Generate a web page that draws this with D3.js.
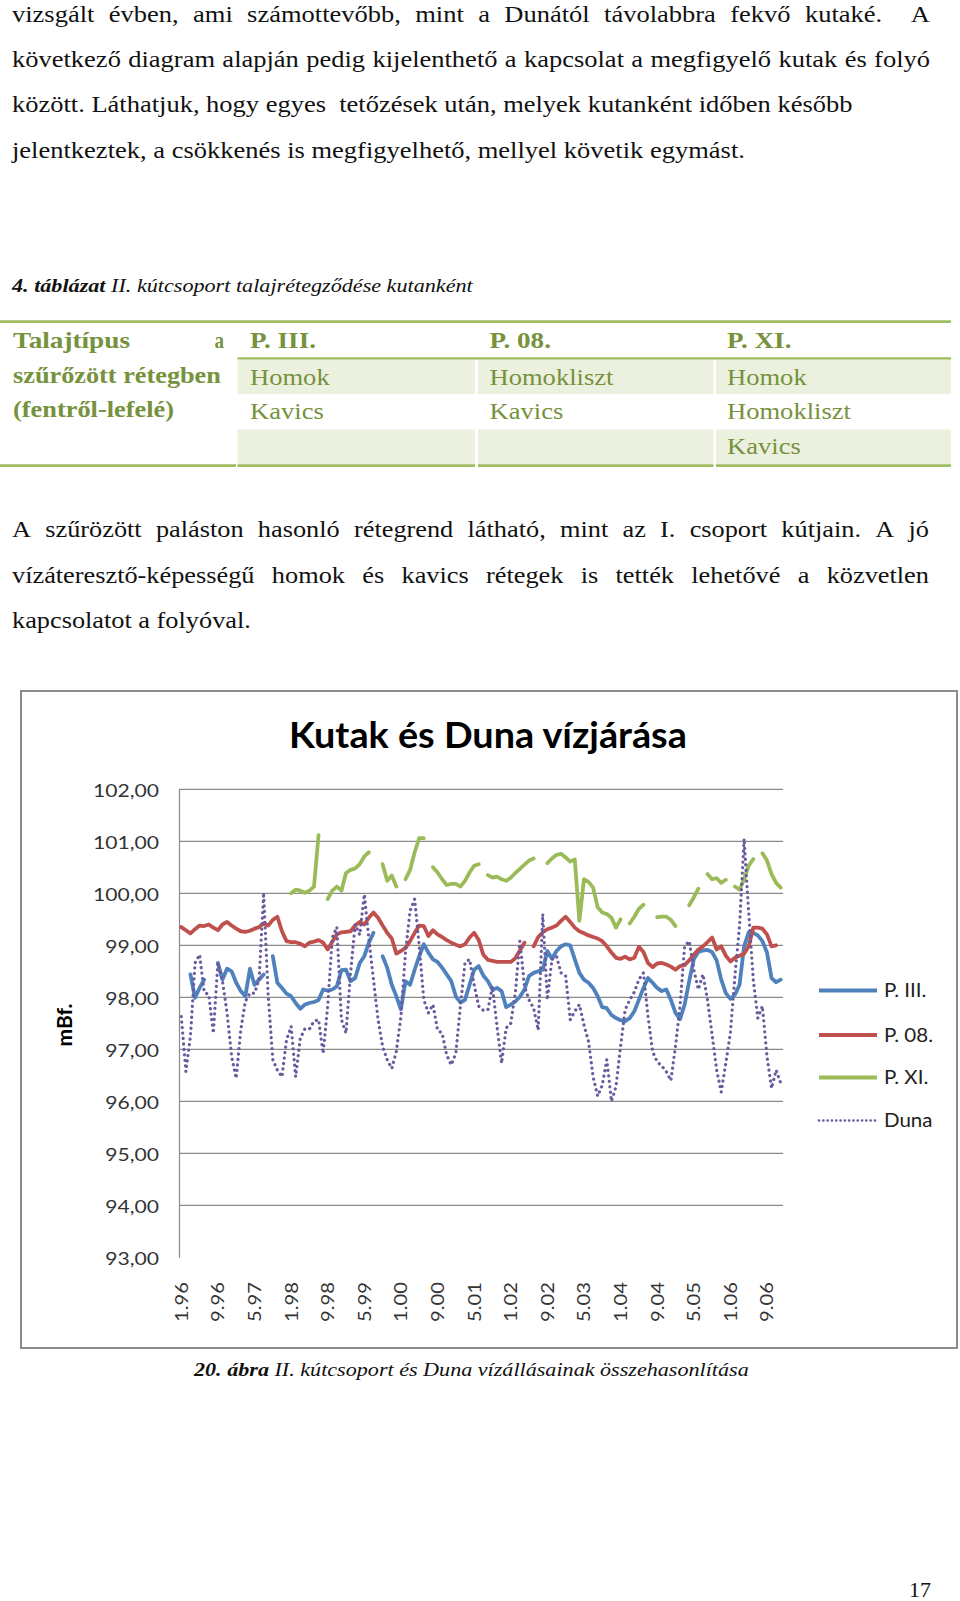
<!DOCTYPE html>
<html><head><meta charset="utf-8">
<script src="https://cdn.jsdelivr.net/npm/d3@7"></script>
<style>html,body{margin:0;padding:0;background:#fff;} svg{display:block;}</style>
</head><body>
<svg id="page" width="960" height="1601"></svg>
<script>
// ---------------- DATA ----------------
const years = ["96","97","98","99","00","01","02","03","04","05","06"];
const months = [];
years.forEach(yy => { for (let m = 1; m <= 12; m++) months.push(m + "." + yy); });
const tickLabels = ["1.96","9.96","5.97","1.98","9.98","5.99","1.00","9.00","5.01","1.02","9.02","5.03","1.04","9.04","5.05","1.06","9.06"];
const yTicks = [93,94,95,96,97,98,99,100,101,102];
const seriesNames = ["P. III.","P. 08.","P. XI.","Duna"];

const P3 = [null,null,98.44,97.99,98.18,98.34,null,null,98.66,98.34,
98.55,98.50,98.28,98.12,98.02,98.55,98.24,98.34,98.44,null,
98.79,98.28,98.18,98.07,98.02,97.89,97.78,97.86,97.89,97.91,
97.95,98.15,98.13,98.15,98.21,98.52,98.53,98.31,98.37,98.66,
98.79,99.05,99.24,null,98.79,98.57,98.24,98.02,97.77,98.31,
98.24,98.53,98.79,99.02,98.86,98.73,98.68,98.57,98.44,98.31,
98.02,97.90,97.95,98.24,98.53,98.60,98.42,98.31,98.15,98.18,
98.12,97.81,97.86,97.92,98.01,98.15,98.41,98.47,98.50,98.53,
98.89,98.74,98.89,98.98,99.02,99.00,98.73,98.47,98.34,98.28,
98.18,98.02,97.81,97.79,97.66,97.60,97.56,97.54,97.60,97.73,
97.95,98.18,98.37,98.28,98.18,98.12,98.15,97.95,97.70,97.58,
97.86,98.31,98.73,98.87,98.90,98.91,98.87,98.71,98.34,98.08,
97.97,98.05,98.24,98.98,99.25,99.24,99.19,99.08,98.86,98.37,
98.29,98.34];

const P08 = [99.35,99.29,99.23,99.31,99.38,99.37,99.40,99.34,99.29,99.40,
99.45,99.38,99.32,99.27,99.26,99.28,99.32,99.35,99.42,99.38,
99.49,99.55,99.27,99.08,99.06,99.06,99.03,98.98,99.05,99.07,
99.10,99.05,98.92,99.07,99.21,99.25,99.26,99.27,99.38,99.45,
99.40,99.53,99.63,99.53,99.38,99.24,99.13,98.84,98.89,98.95,
99.08,99.24,99.38,99.37,99.18,99.29,99.21,99.16,99.10,99.05,
99.01,98.98,99.02,99.15,99.24,99.10,98.82,98.72,98.70,98.68,
98.68,98.68,98.68,98.75,98.90,99.05,null,98.98,99.16,99.25,
99.31,99.34,99.38,99.47,99.55,99.45,99.34,99.27,99.23,99.19,
99.16,99.13,99.08,98.98,98.86,98.76,98.74,98.78,98.73,98.76,
98.97,98.87,98.66,98.58,98.65,98.66,98.63,98.59,98.53,98.60,
98.62,98.71,98.82,98.92,98.98,99.06,99.15,98.92,98.98,98.80,
98.69,98.76,98.80,98.84,98.98,99.34,99.34,99.32,99.21,98.98,
99.00,null];

const P11 = [null,null,null,null,null,null,null,null,null,null,
null,null,null,null,null,null,null,null,null,null,
null,null,null,null,100.00,100.07,100.05,100.01,100.05,100.13,
101.12,null,99.89,100.05,100.13,100.05,100.39,100.45,100.48,100.56,
100.71,100.79,null,null,100.56,100.24,100.34,100.13,null,100.27,
100.45,100.79,101.06,101.06,null,100.50,100.40,100.27,100.16,100.18,
100.18,100.13,100.24,100.40,100.53,100.56,null,100.35,100.30,100.32,
100.27,100.24,100.30,100.39,100.47,100.55,100.63,100.67,null,null,
100.58,100.67,100.74,100.76,100.69,100.61,100.65,99.47,100.27,100.22,
100.11,99.73,99.63,99.60,99.53,99.34,99.50,null,99.42,99.55,
99.70,99.78,null,null,99.54,99.55,99.55,99.49,99.37,null,
null,99.77,99.92,100.09,null,100.37,100.27,100.29,100.20,100.26,
null,100.13,100.07,100.27,100.53,100.66,null,100.77,100.63,100.37,
100.20,100.11];

const Duna = [97.63,96.57,97.25,98.66,98.82,98.10,98.05,97.31,98.66,98.31,
97.70,96.86,96.44,97.37,97.92,98.08,98.08,98.34,100.01,98.02,
96.80,96.60,96.47,97.18,97.44,96.47,97.21,97.39,97.39,97.54,
97.57,96.92,97.83,99.15,99.35,97.57,97.31,98.47,99.40,99.20,
99.98,99.11,98.34,97.57,97.05,96.80,96.63,96.96,97.63,98.86,
99.66,99.89,98.98,97.95,97.70,97.86,97.37,97.31,96.89,96.70,
96.92,97.83,98.66,98.73,98.24,97.83,97.75,97.76,98.21,97.44,
96.73,97.41,97.50,98.08,99.08,98.21,97.95,97.79,97.37,99.60,
97.95,98.73,98.79,98.47,98.41,97.57,97.73,97.86,97.47,97.15,
96.47,96.10,96.31,96.80,96.00,96.28,97.05,97.76,97.95,98.10,
98.34,98.47,97.63,96.96,96.76,96.68,96.57,96.40,97.05,97.83,
98.98,99.08,98.53,98.15,98.44,97.95,97.28,96.60,96.18,96.73,
97.31,98.41,99.37,101.05,99.63,98.34,97.60,97.83,96.86,96.25,
96.60,96.35];

// ---------------- PAGE TEXT ----------------
const para1 = [
  {t:"vizsgált évben, ami számottevőbb, mint a Dunától távolabbra fekvő kutaké.  A", y:21.5, x1:930, j:true},
  {t:"következő diagram alapján pedig kijelenthető a kapcsolat a megfigyelő kutak és folyó", y:66.5, x1:930, j:true},
  {t:"között. Láthatjuk, hogy egyes  tetőzések után, melyek kutanként időben később", y:112, x1:853, j:false},
  {t:"jelentkeztek, a csökkenés is megfigyelhető, mellyel követik egymást.", y:157.5, x1:745, j:false}
];
const para2 = [
  {t:"A szűrözött paláston hasonló rétegrend látható, mint az I. csoport kútjain. A jó", y:537, x1:929, j:true},
  {t:"vízáteresztő-képességű homok és kavics rétegek is tették lehetővé a közvetlen", y:582.5, x1:929, j:true},
  {t:"kapcsolatot a folyóval.", y:628, x1:251, j:false}
];
const tableHead = ["P. III.","P. 08.","P. XI."];
const tableRows = [["Homok","Homokliszt","Homok"],["Kavics","Kavics","Homokliszt"],["","","Kavics"]];

// ---------------- HELPERS ----------------
const svg = d3.select("#page");
const SERIF = "'Liberation Serif','Times New Roman',serif";
const SANS = "Lato,'Open Sans',sans-serif";
function applyFont(sel, f) {
  return sel.attr("font-family", f.family).attr("font-size", f.size)
    .attr("font-weight", f.weight || "normal").attr("font-style", f.style || "normal")
    .style("white-space", "pre");
}
function measure(str, f) {
  const t = applyFont(svg.append("text"), f).text(str);
  const w = t.node().getComputedTextLength(); t.remove(); return w;
}
function place(g, str, x, y, sx, f, fill, anchor) {
  return applyFont(g.append("text"), f).attr("fill", fill).attr("text-anchor", anchor || "start")
    .attr("transform", `translate(${x},${y}) scale(${sx},1)`).text(str);
}
function fit(g, str, x, y, width, f, fill, anchor) {
  return place(g, str, x, y, width / measure(str, f), f, fill, anchor);
}
function paragraph(lines, x0, f, fill) {
  const g = svg.append("g");
  const un = lines.filter(l => !l.j);
  const sx = d3.mean(un, l => (l.x1 - x0) / measure(l.t, f));
  lines.forEach(l => {
    if (!l.j) { place(g, l.t, x0, l.y, (l.x1 - x0) / measure(l.t, f), f, fill); return; }
    const words = l.t.split(" ");
    const ws = words.map(w => w ? measure(w, f) * sx : 0);
    const gap = (l.x1 - x0 - d3.sum(ws)) / (words.length - 1);
    let cx = x0;
    words.forEach((w, k) => { if (w) place(g, w, cx, l.y, sx, f, fill); cx += ws[k] + gap; });
  });
}
function mixed(g, parts, x, y, width, size, fill) {
  const t = g.append("text").attr("font-family", SERIF).attr("font-size", size).attr("fill", fill).style("white-space","pre");
  parts.forEach(p => t.append("tspan").attr("font-weight", p.b ? "bold" : "normal").attr("font-style", "italic").text(p.t));
  const w = t.node().getComputedTextLength();
  t.attr("transform", `translate(${x},${y}) scale(${width / w},1)`);
}

// ---------------- BODY TEXT ----------------
const bodyFont = {family: SERIF, size: 22.5};
paragraph(para1, 12, bodyFont, "#111");
paragraph(para2, 12, bodyFont, "#111");

// ---------------- TABLE ----------------
const green = "#9bbb59", olive = "#76923c", shade = "#ebf1de";
const tg = svg.append("g");
mixed(tg, [{t:"4. táblázat", b:true},{t:" II. kútcsoport talajrétegződése kutanként"}], 12, 292, 461, 19.5, "#111");
const colX = [[237.5,475],[478,713.5],[716,951]];
colX.forEach(c => {
  tg.append("rect").attr("x", c[0]).attr("y", 359.5).attr("width", c[1]-c[0]).attr("height", 34.5).attr("fill", shade);
  tg.append("rect").attr("x", c[0]).attr("y", 429.5).attr("width", c[1]-c[0]).attr("height", 35).attr("fill", shade);
});
tg.append("rect").attr("x", 0).attr("y", 320.3).attr("width", 951).attr("height", 2.6).attr("fill", green);
tg.append("rect").attr("x", 237.5).attr("y", 357.3).attr("width", 713.5).attr("height", 2.2).attr("fill", green);
[[0,236],[237.5,475],[478,713.5],[716,951]].forEach(c =>
  tg.append("rect").attr("x", c[0]).attr("y", 464.3).attr("width", c[1]-c[0]).attr("height", 2.6).attr("fill", green));
const tb = {family: SERIF, size: 22.5, weight: "bold"};
const tn = {family: SERIF, size: 22.5};
fit(tg, "Talajtípus", 13, 347.5, 117, tb, olive);
fit(tg, "a", 224, 347.5, 9.5, tb, olive, "end");
fit(tg, "szűrőzött rétegben", 13, 382.5, 208, tb, olive);
fit(tg, "(fentről-lefelé)", 13, 417, 161, tb, olive);
const cellX = [250, 489.5, 727];
const sxHead = 66 / measure("P. III.", tb);
tableHead.forEach((h, k) => place(tg, h, cellX[k], 347.5, sxHead, tb, olive));
const sxCell = 124 / measure("Homokliszt", tn);
const rowY = [384.5, 419, 454];
tableRows.forEach((r, ri) => r.forEach((c, k) => { if (c) place(tg, c, cellX[k], rowY[ri], sxCell, tn, olive); }));

// ---------------- CHART ----------------
const cg = svg.append("g");
cg.append("rect").attr("x", 21).attr("y", 691).attr("width", 936).attr("height", 657)
  .attr("fill", "#fff").attr("stroke", "#8c8c8c").attr("stroke-width", 2);

const x = d3.scaleBand().domain(d3.range(months.length)).range([179, 783]);
const y = d3.scaleLinear().domain([93, 102]).range([1257.3, 789.3]);
const cx = i => x(i) + x.bandwidth() / 2;

cg.append("g").selectAll("line").data(yTicks.filter(v => v > 93)).join("line")
  .attr("x1", 179).attr("x2", 783).attr("y1", d => y(d)).attr("y2", d => y(d))
  .attr("stroke", "#8a8a8a").attr("stroke-width", 1.2);

const tickFont = {family: SANS, size: 18};
const yAxis = cg.append("g").attr("transform", "translate(179,0)")
  .call(d3.axisLeft(y).tickValues(yTicks).tickSize(0).tickSizeOuter(0).tickPadding(20)
    .tickFormat(v => v.toFixed(2).replace(".", ",")));
yAxis.select(".domain").attr("stroke", "#8a8a8a").attr("stroke-width", 1.2);
const sxY = 66 / measure("102,00", tickFont);
yAxis.selectAll("text").attr("font-family", SANS).attr("font-size", 18).attr("fill", "#333")
  .attr("x", 0).attr("dy", "0.36em").attr("transform", `translate(-20,1) scale(${sxY},1)`);

const tickIdx = tickLabels.map(l => months.indexOf(l));
const xAxis = cg.append("g").attr("transform", `translate(0,${y(93)})`)
  .call(d3.axisBottom(x).tickValues(tickIdx).tickSize(0).tickFormat(i => months[i]));
xAxis.select(".domain").remove();
const sxX = 40 / measure("1.96", tickFont);
xAxis.selectAll("text").attr("font-family", SANS).attr("font-size", 18).attr("fill", "#333")
  .attr("y", 0).attr("dy", "0.36em").attr("text-anchor", "end")
  .attr("transform", `translate(0,${1282 - y(93)}) rotate(-90) scale(${sxX},1)`);

// title & axis title
fit(cg, "Kutak és Duna vízjárása", 488, 747.5, 398, {family: SANS, size: 36, weight: "bold"}, "#000", "middle");
const mb = {family: SANS, size: 20, weight: "bold"};
cg.append("text").attr("font-family", SANS).attr("font-size", 20).attr("font-weight", "bold").attr("fill", "#000")
  .attr("text-anchor", "middle").attr("dy", "0.36em")
  .attr("transform", `translate(64.5,1025) rotate(-90) scale(${43 / measure("mBf.", mb)},1)`).text("mBf.");

// series
const colors = ["#4f81bd", "#c0504d", "#9bbb59", "#6a5a9e"];
const values = [P3, P08, P11, Duna];
const series = seriesNames.map((n, k) => ({name: n, color: colors[k], dotted: k === 3,
  pts: values[k].map((v, i) => ({i, v}))}));
const line = d3.line().defined(d => d.v != null).x(d => cx(d.i)).y(d => y(d.v));
series.forEach(s => {
  const p = cg.append("path").datum(s.pts).attr("d", line).attr("fill", "none")
    .attr("stroke", s.color).attr("stroke-linejoin", "round");
  if (s.dotted) p.attr("stroke-width", 3.2).attr("stroke-linecap", "round").attr("stroke-dasharray", "0.1 5.4");
  else p.attr("stroke-width", 3.8).attr("stroke-linecap", "round");
});

// legend
const legY = [990.5, 1035, 1077.5, 1120.5];
const legFont = {family: SANS, size: 19};
const sxL = 49 / measure("P. 08.", legFont);
series.forEach((s, k) => {
  const l = cg.append("line").attr("x1", 819).attr("x2", 877).attr("y1", legY[k]).attr("y2", legY[k]).attr("stroke", s.color);
  if (s.dotted) l.attr("stroke-width", 2.6).attr("stroke-linecap", "round").attr("stroke-dasharray", "0.1 4.2");
  else l.attr("stroke-width", 3.8);
  place(cg, s.name, 884, legY[k], sxL, legFont, "#222").attr("dy", "0.36em");
});

// ---------------- CAPTION & PAGE NUMBER ----------------
mixed(svg.append("g"), [{t:"20. ábra", b:true},{t:" II. kútcsoport és Duna vízállásainak összehasonlítása"}], 194, 1376, 555, 19.5, "#111");
fit(svg, "17", 909, 1597, 22, {family: SERIF, size: 22}, "#111");
</script></body></html>
